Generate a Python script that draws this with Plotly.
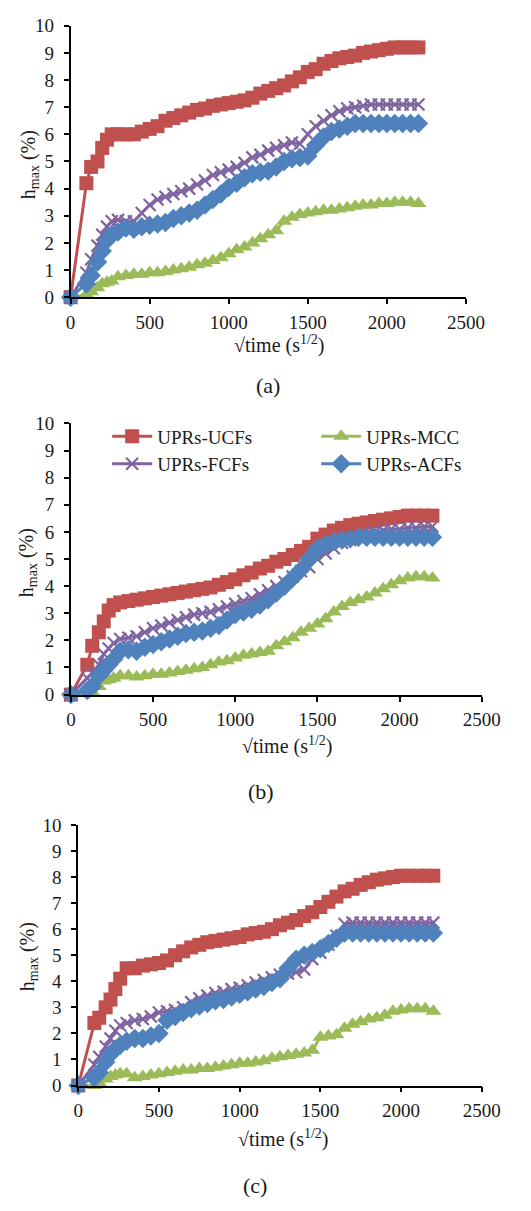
import plotly.graph_objects as go

# ---------------- data ----------------
x_a = [0, 100, 130, 170, 200, 230, 260, 300] + list(range(350, 2201, 50))
x_b = list(x_a)
x_c = list(x_a)

ucf_a = [0, 4.2, 4.8, 5.0, 5.5, 5.8, 6.0, 6.0,
         6.0, 6.0, 6.1, 6.2, 6.3, 6.5, 6.6, 6.7, 6.8, 6.9,
         6.95, 7.05, 7.1, 7.15, 7.2, 7.25, 7.35, 7.5, 7.6, 7.7,
         7.8, 7.95, 8.1, 8.3, 8.4, 8.6, 8.7, 8.8, 8.85, 8.9,
         9.0, 9.05, 9.1, 9.15, 9.2, 9.2, 9.2, 9.2]
mcc_a = [0, 0.1, 0.2, 0.35, 0.5, 0.55, 0.6, 0.75,
         0.8, 0.85, 0.85, 0.9, 0.9, 0.95, 1.0, 1.05, 1.1, 1.2,
         1.25, 1.35, 1.45, 1.6, 1.75, 1.85, 2.0, 2.15, 2.3, 2.45,
         2.8, 2.95, 3.05, 3.1, 3.15, 3.2, 3.2, 3.25, 3.3, 3.35,
         3.4, 3.4, 3.45, 3.45, 3.5, 3.5, 3.5, 3.45]
fcf_a = [0, 0.9, 1.4, 1.9, 2.3, 2.6, 2.8, 2.85,
         2.8, 2.8, 3.1, 3.4, 3.6, 3.7, 3.8, 3.9, 4.0, 4.15,
         4.3, 4.5, 4.6, 4.7, 4.8, 4.95, 5.15, 5.25, 5.4, 5.5,
         5.6, 5.7, 5.65, 6.0, 6.3, 6.5, 6.7, 6.85, 6.95, 7.0,
         7.05, 7.1, 7.1, 7.1, 7.1, 7.1, 7.1, 7.1]
acf_a = [0, 0.5, 0.8, 1.3, 1.7, 2.1, 2.3, 2.4,
         2.55, 2.5, 2.6, 2.65, 2.7, 2.75, 2.9, 3.0, 3.1, 3.2,
         3.4, 3.6, 3.8, 4.05, 4.2, 4.4, 4.55, 4.6, 4.65, 4.8,
         5.0, 5.1, 5.15, 5.2, 5.6, 5.9, 6.1, 6.2, 6.3, 6.4,
         6.4, 6.4, 6.4, 6.4, 6.4, 6.4, 6.4, 6.4]

ucf_b = [0, 1.1, 1.8, 2.3, 2.7, 3.1, 3.3, 3.4,
         3.45, 3.5, 3.55, 3.6, 3.65, 3.7, 3.75, 3.8, 3.85, 3.9,
         3.95, 4.05, 4.15, 4.25, 4.4, 4.5, 4.65, 4.75, 4.9, 5.0,
         5.15, 5.3, 5.45, 5.75, 5.9, 6.05, 6.15, 6.25, 6.3, 6.35,
         6.4, 6.45, 6.5, 6.55, 6.6, 6.6, 6.6, 6.6]
mcc_b = [0, 0.05, 0.1, 0.3, 0.5, 0.55, 0.6, 0.7,
         0.7, 0.65, 0.7, 0.75, 0.75, 0.8, 0.85, 0.9, 0.95, 1.0,
         1.1, 1.2, 1.25, 1.35, 1.45, 1.5, 1.55, 1.6, 1.8, 1.95,
         2.1, 2.3, 2.45, 2.6, 2.8, 3.05, 3.25, 3.4, 3.5, 3.6,
         3.75, 3.9, 4.05, 4.2, 4.3, 4.35, 4.35, 4.3]
fcf_b = [0, 0.6, 0.8, 1.1, 1.5, 1.7, 1.9, 2.05,
         2.1, 2.15, 2.3, 2.45, 2.55, 2.65, 2.75, 2.85, 2.95, 3.0,
         3.05, 3.15, 3.25, 3.35, 3.45, 3.55, 3.7, 3.85, 4.0, 4.15,
         4.35, 4.55, 4.7, 5.0, 5.2, 5.4, 5.6, 5.7, 5.8, 5.9,
         6.0, 6.05, 6.1, 6.1, 6.15, 6.15, 6.2, 6.2]
acf_b = [0, 0.15, 0.3, 0.7, 0.9, 1.1, 1.3, 1.6,
         1.65, 1.6, 1.75, 1.85, 1.95, 2.05, 2.15, 2.25, 2.3, 2.35,
         2.45, 2.55, 2.75, 2.95, 3.05, 3.15, 3.3, 3.5, 3.75, 4.0,
         4.3, 4.6, 5.0, 5.4, 5.55, 5.65, 5.7, 5.75, 5.8, 5.8,
         5.8, 5.8, 5.8, 5.8, 5.8, 5.8, 5.8, 5.8]

ucf_c = [0, 2.4, 2.6, 3.0, 3.3, 3.7, 4.1, 4.5,
         4.5, 4.6, 4.65, 4.7, 4.8, 5.0, 5.15, 5.3, 5.4, 5.5,
         5.55, 5.6, 5.65, 5.7, 5.8, 5.85, 5.9, 6.0, 6.15, 6.25,
         6.35, 6.5, 6.65, 6.85, 7.05, 7.25, 7.45, 7.55, 7.7, 7.8,
         7.9, 7.95, 8.0, 8.05, 8.05, 8.05, 8.05, 8.05]
mcc_c = [0, 0.0, 0.1, 0.25, 0.35, 0.4, 0.45, 0.45,
         0.3, 0.35, 0.4, 0.45, 0.5, 0.55, 0.6, 0.6, 0.65, 0.65,
         0.7, 0.75, 0.8, 0.85, 0.85, 0.9, 0.95, 1.05, 1.1, 1.15,
         1.2, 1.25, 1.35, 1.85, 1.9, 1.95, 2.2, 2.35, 2.45, 2.55,
         2.6, 2.7, 2.85, 2.9, 2.95, 2.95, 2.95, 2.85]
fcf_c = [0, 0.8, 1.1, 1.5, 1.8, 2.1, 2.3, 2.4,
         2.5, 2.55, 2.65, 2.8, 2.85, 2.9, 3.0, 3.2, 3.35, 3.45,
         3.55, 3.6, 3.7, 3.75, 3.85, 3.95, 4.05, 4.15, 4.25, 4.3,
         4.35, 4.45, 4.85, 5.1, 5.4, 5.75, 6.2, 6.25, 6.25, 6.25,
         6.25, 6.25, 6.25, 6.25, 6.25, 6.25, 6.25, 6.25]
acf_c = [0, 0.3, 0.5, 0.9, 1.2, 1.4, 1.55, 1.7,
         1.8, 1.8, 1.9, 2.0, 2.5, 2.65, 2.8, 2.95, 3.05, 3.15,
         3.25, 3.3, 3.4, 3.5, 3.6, 3.7, 3.8, 3.95, 4.1, 4.5,
         4.85, 5.0, 5.1, 5.25, 5.45, 5.65, 5.85, 5.85, 5.85, 5.85,
         5.85, 5.85, 5.85, 5.85, 5.85, 5.85, 5.85, 5.85]

series_names = ["UPRs-UCFs", "UPRs-MCC", "UPRs-FCFs", "UPRs-ACFs"]
x_ticks = [0, 500, 1000, 1500, 2000, 2500]
y_ticks = list(range(0, 11))
panel_labels = ["(a)", "(b)", "(c)"]

# ---------------- styling ----------------
W, H = 531, 1211
FONT = "Liberation Serif, Times New Roman, serif"
TXT = "#1a1a1a"
colors = ["#C0504D", "#9BBB59", "#8064A2", "#4F81BD"]
symbols = ["square", "triangle-up", "x-thin", "diamond"]
msizes = [14, 14, 12, 15]
legends = ["legend", "legend2", "legend3", "legend4"]
# legend positions (left px of legend box, centre y px)
leg_pos = [(107, 434), (326, 434), (107, 462), (326, 462)]

panels = [
    (x_a, [ucf_a, mcc_a, fcf_a, acf_a]),
    (x_b, [ucf_b, mcc_b, fcf_b, acf_b]),
    (x_c, [ucf_c, mcc_c, fcf_c, acf_c]),
]

# pixel boxes of plot areas: (left, right, top, bottom)
boxes = [(68.7, 482.7, 16.0, 292.3),
         (69.0, 499.3, 420.7, 696.7),
         (76.7, 499.3, 829.3, 1094.5)]


def px(x):
    return x / W


def py(y):
    return 1 - y / H


fig = go.Figure()
for p, (xs, ys_list) in enumerate(panels):
    sfx = "" if p == 0 else str(p + 1)
    for k, ys in enumerate(ys_list):
        mk = dict(symbol=symbols[k], size=msizes[k], color=colors[k])
        if symbols[k] == "x-thin":
            mk["line"] = dict(color=colors[k], width=2.2)
        fig.add_trace(go.Scatter(
            x=xs, y=ys, mode="lines+markers", name=series_names[k],
            line=dict(color=colors[k], width=3),
            marker=mk, cliponaxis=False,
            xaxis="x" + sfx, yaxis="y" + sfx,
            showlegend=(p == 1), legend=legends[k],
        ))

axis_common = dict(showgrid=False, zeroline=False, showline=True,
                   linecolor="black", linewidth=1.8, ticks="outside",
                   ticklen=5, tickwidth=1.5, tickcolor="black",
                   tickfont=dict(family=FONT, size=19, color=TXT))

layout = dict(width=W, height=H, margin=dict(l=0, r=0, t=0, b=0),
              paper_bgcolor="white", plot_bgcolor="white",
              font=dict(family=FONT, color=TXT))
annotations = []
ytitle_pos = [(25, 157), (23, 562), (24, 963)]
for p, (l, r, t, b) in enumerate(boxes):
    sfx = "" if p == 0 else str(p + 1)
    layout["xaxis" + sfx] = dict(axis_common, domain=[px(l), px(r)], range=[0, 2500],
                                 tickvals=x_ticks, anchor="y" + sfx, ticklabelstandoff=2)
    layout["yaxis" + sfx] = dict(axis_common, domain=[py(b), py(t)], range=[0, 10],
                                 tickvals=y_ticks, anchor="x" + sfx, ticklabelstandoff=6)
    annotations.append(dict(text="h<sub>max</sub> (%)", textangle=-90,
                            x=px(ytitle_pos[p][0]), y=py(ytitle_pos[p][1]),
                            xref="paper", yref="paper", xanchor="center", yanchor="middle",
                            showarrow=False, font=dict(family=FONT, size=20, color=TXT)))

xt_pos = [(288, 340), (296, 748), (292, 1148)]
lab_pos = [(275, 382), (268, 795), (262, 1196)]
for p in range(3):
    annotations.append(dict(text="\u221atime (s<sup>1/2</sup>)",
                            x=px(xt_pos[p][0]), y=py(xt_pos[p][1]), xref="paper", yref="paper",
                            xanchor="center", yanchor="middle",
                            showarrow=False, font=dict(family=FONT, size=20, color=TXT)))
    annotations.append(dict(text=panel_labels[p],
                            x=px(lab_pos[p][0]), y=py(lab_pos[p][1]), xref="paper", yref="paper",
                            xanchor="center", yanchor="middle",
                            showarrow=False, font=dict(family=FONT, size=22, color=TXT)))

leg_common = dict(font=dict(family=FONT, size=19, color=TXT),
                  bgcolor="rgba(0,0,0,0)", xanchor="left", yanchor="middle",
                  tracegroupgap=0, itemwidth=40)
for k, name in enumerate(legends):
    layout[name] = dict(leg_common, x=px(leg_pos[k][0]), y=py(leg_pos[k][1]))
layout["annotations"] = annotations

fig.update_layout(**layout)
fig.write_html("out.html")
